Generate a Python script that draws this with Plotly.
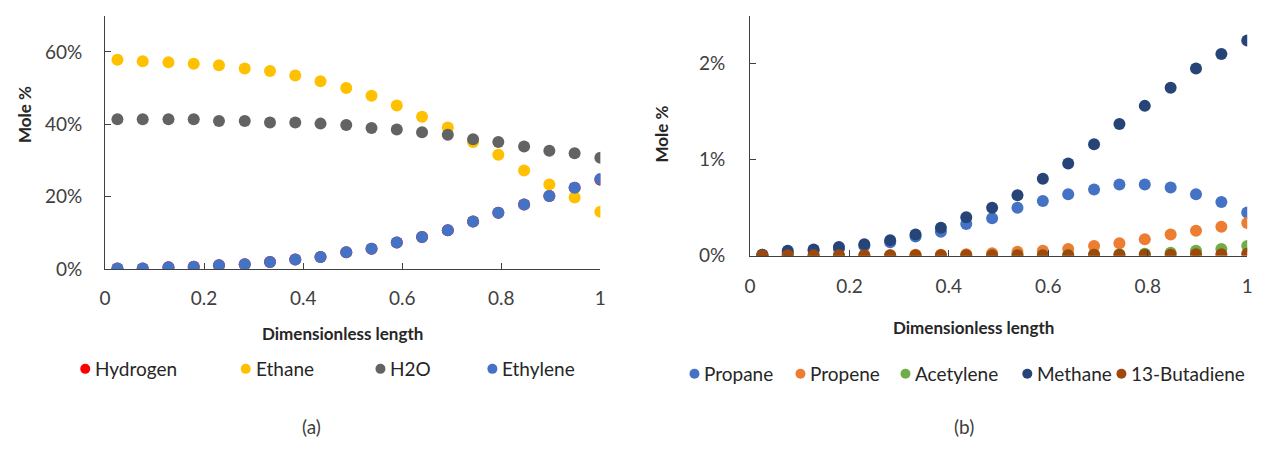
import plotly.graph_objects as go

# ---- data ----
x_len = [0.025, 0.076, 0.128, 0.179, 0.230, 0.282, 0.333, 0.384, 0.435, 0.487,
         0.538, 0.589, 0.640, 0.692, 0.743, 0.794, 0.846, 0.897, 0.948, 1.000]

# panel (a), fractions
hydrogen = [0.002, 0.002, 0.006, 0.007, 0.011, 0.014, 0.020, 0.027, 0.034, 0.047,
            0.057, 0.074, 0.089, 0.108, 0.132, 0.156, 0.179, 0.202, 0.225, 0.247]
ethane = [0.578, 0.574, 0.571, 0.567, 0.563, 0.554, 0.547, 0.535, 0.519, 0.500,
          0.479, 0.452, 0.421, 0.391, 0.351, 0.316, 0.273, 0.234, 0.198, 0.159]
h2o = [0.414, 0.414, 0.414, 0.414, 0.409, 0.409, 0.405, 0.405, 0.402, 0.398,
       0.390, 0.386, 0.378, 0.371, 0.359, 0.351, 0.339, 0.327, 0.320, 0.308]
ethylene = [0.002, 0.002, 0.006, 0.007, 0.011, 0.014, 0.020, 0.027, 0.034, 0.047,
            0.057, 0.074, 0.089, 0.108, 0.132, 0.156, 0.179, 0.202, 0.225, 0.249]

# panel (b), fractions
propane = [0.0001, 0.0003, 0.0005, 0.0007, 0.0010, 0.0014, 0.0020, 0.0025, 0.0033, 0.0039,
           0.0050, 0.0057, 0.0064, 0.0069, 0.0074, 0.0074, 0.0071, 0.0064, 0.0056, 0.0045]
propene = [0.0, 0.0, 0.0, 0.0, 0.00002, 0.00005, 0.0001, 0.0001, 0.00015, 0.00025,
           0.0004, 0.0005, 0.0007, 0.0010, 0.0013, 0.0017, 0.0022, 0.0026, 0.0030, 0.0034]
acetylene = [0.0, 0.0, 0.0, 0.0, 0.0, 0.0, 0.0, 0.0, 0.0, 0.00002,
             0.00004, 0.00006, 0.0001, 0.00012, 0.00016, 0.0002, 0.0003, 0.0005, 0.0007, 0.0010]
methane = [0.0001, 0.0005, 0.00065, 0.0009, 0.0012, 0.0016, 0.0022, 0.0029, 0.0040, 0.0050,
           0.0063, 0.0080, 0.0096, 0.0116, 0.0137, 0.0156, 0.0175, 0.0195, 0.0210, 0.0224]
butadiene = [0.00005, 0.00005, 0.00005, 0.00005, 0.00005, 0.00005, 0.00005, 0.00005, 0.00005, 0.00005,
             0.00005, 0.00005, 0.00005, 0.0001, 0.0001, 0.0001, 0.0001, 0.00015, 0.00015, 0.0002]

names_a = ["Hydrogen", "Ethane", "H2O", "Ethylene"]
colors_a = ["#FF0000", "#FFC000", "#636363", "#4472C4"]
names_b = ["Propane", "Propene", "Acetylene", "Methane", "13-Butadiene"]
colors_b = ["#4472C4", "#ED7D31", "#70AD47", "#264478", "#9E480E"]

x_ticks = [0, 0.2, 0.4, 0.6, 0.8, 1]
x_tick_text = ["0", "0.2", "0.4", "0.6", "0.8", "1"]
ya_ticks = [0, 0.2, 0.4, 0.6]
ya_tick_text = ["0%", "20%", "40%", "60%"]
yb_ticks = [0, 0.01, 0.02]
yb_tick_text = ["0%", "1%", "2%"]

x_title = "Dimensionless length"
y_title = "Mole %"
captions = ["(a)", "(b)"]

FONT = "Lato, 'Open Sans', sans-serif"
TXT = "#404040"
MS = 12
W, H = 1277, 455

fig = go.Figure()

for name, ys, col in zip(names_a, [hydrogen, ethane, h2o, ethylene], colors_a):
    fig.add_trace(go.Scatter(x=x_len, y=ys, mode="markers", name=name, showlegend=False,
                             marker=dict(color=col, size=MS), xaxis="x", yaxis="y"))

for name, ys, col in zip(names_b, [propane, propene, acetylene, methane, butadiene], colors_b):
    fig.add_trace(go.Scatter(x=x_len, y=ys, mode="markers", name=name, showlegend=False,
                             marker=dict(color=col, size=MS), xaxis="x2", yaxis="y2"))

axis_common = dict(showgrid=False, zeroline=False, showline=True, linecolor="#404040",
                   linewidth=1, tickcolor="#404040", ticklen=6, ticks="inside",
                   tickfont=dict(family=FONT, size=19, color=TXT))


def px(xp):
    return xp / W


def py(yp):
    return 1 - yp / H


annotations = []
shapes = []

# axis titles
for cx, cy in [(340, 342), (977, 336)]:
    annotations.append(dict(text="<b>%s</b>" % x_title, x=px(cx), y=py(cy), xref="paper", yref="paper",
                            xanchor="center", yanchor="middle",
                            showarrow=False, font=dict(family=FONT, size=17, color="#262626")))
for cx, cy in [(18, 117), (662, 137)]:
    annotations.append(dict(text="<b>%s</b>" % y_title, x=px(cx), y=py(cy), xref="paper", yref="paper",
                            xanchor="center", yanchor="middle",
                            textangle=-90, showarrow=False, font=dict(family=FONT, size=17, color="#262626")))
# captions
for cap, cx in zip(captions, [308, 967]):
    annotations.append(dict(text=cap, x=px(cx), y=py(437), xref="paper", yref="paper",
                            xanchor="center", yanchor="middle",
                            showarrow=False, font=dict(family=FONT, size=19, color=TXT)))

# legends (symbol + label)
leg_a_pos = [80, 242, 378, 491]
leg_b_pos = [695, 802, 908, 1031, 1126]
for names, colors, poss, ly in [(names_a, colors_a, leg_a_pos, 378), (names_b, colors_b, leg_b_pos, 383)]:
    for name, col, mx in zip(names, colors, poss):
        shapes.append(dict(type="circle", xref="paper", yref="paper", xsizemode="pixel", ysizemode="pixel",
                           xanchor=px(mx), yanchor=py(ly), x0=-5, x1=5, y0=-5, y1=5,
                           fillcolor=col, line=dict(width=0)))
        annotations.append(dict(text=name, x=px(mx + 8), y=py(ly), xref="paper", yref="paper",
                                xanchor="left", yanchor="middle", showarrow=False,
                                font=dict(family=FONT, size=19, color="#262626")))

fig.update_layout(
    width=W, height=H, margin=dict(l=0, r=0, t=0, b=0),
    paper_bgcolor="white", plot_bgcolor="white",
    font=dict(family=FONT, color=TXT),
    showlegend=False,
    xaxis=dict(domain=[px(100), px(600)], range=[0, 1], tickvals=x_ticks, ticktext=x_tick_text,
               anchor="y", ticklabelstandoff=12, **axis_common),
    yaxis=dict(domain=[py(276), py(16)], range=[0, 0.70], tickvals=ya_ticks,
               ticktext=ya_tick_text, anchor="x", ticklabelstandoff=18, **axis_common),
    xaxis2=dict(domain=[px(751), px(1253)], range=[0, 1], tickvals=x_ticks, ticktext=x_tick_text,
                anchor="y2", ticklabelstandoff=14, **axis_common),
    yaxis2=dict(domain=[py(262), py(16)], range=[0, 0.025], tickvals=yb_ticks,
                ticktext=yb_tick_text, anchor="x2", ticklabelstandoff=20, **axis_common),
    annotations=annotations,
    shapes=shapes,
)

fig.write_html("out.html")
